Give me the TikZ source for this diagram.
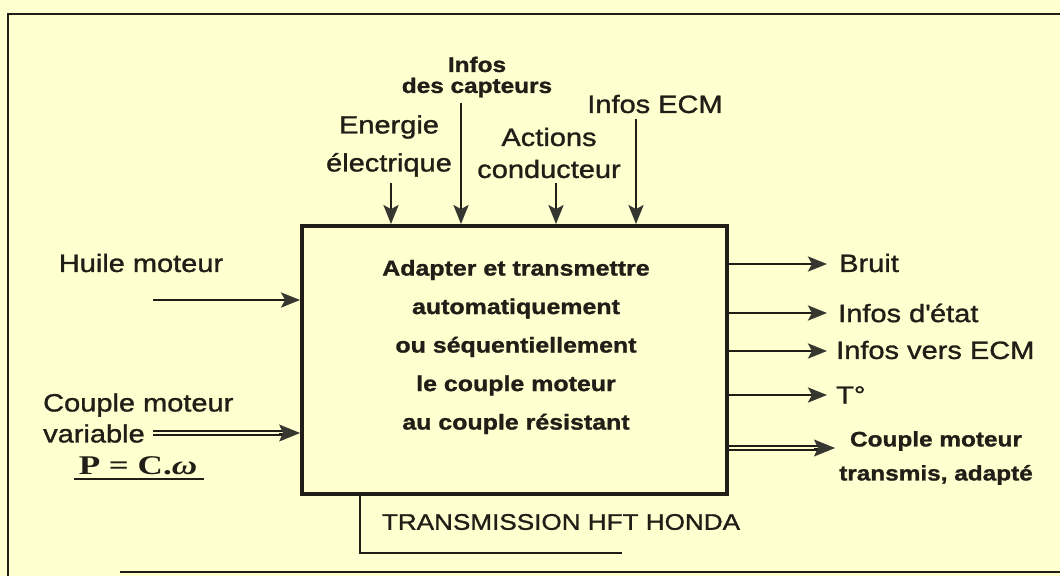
\documentclass[tikz,border=0pt]{standalone}
\usepackage{fontspec}
\setmainfont{Liberation Sans}[FakeStretch=1.16,FakeBold=1.2]
\newfontfamily\serf{Liberation Serif}[FakeStretch=1.3]
\usetikzlibrary{arrows.meta,calc}
\definecolor{bg}{RGB}{255,255,208}
\definecolor{ink}{RGB}{32,30,22}
\definecolor{tipc}{RGB}{55,55,50}
\tikzset{
  headA/.tip={Stealth[length=19pt,width=15pt,inset=4pt,color=tipc]},
  headB/.tip={Stealth[length=21pt,width=17pt,inset=4pt,color=tipc]}
}
\begin{document}
\begin{tikzpicture}[x=1pt,y=-1pt,
  frame/.style={draw=ink,line width=2.2pt},
  arr/.style={draw=ink,line width=2.8pt,-headA},
  dbl/.style={draw=ink,line width=2.2pt,double=bg,double distance=2pt},
  tipstyle/.style={draw=ink,line width=1pt,-headB},
  lab/.style={inner sep=0pt,text=ink,font=\fontsize{25}{28}\selectfont},
  capt/.style={inner sep=0pt,text=ink,align=center,font=\fontsize{21}{21}\selectfont\bfseries},
  boxtext/.style={inner sep=0pt,text=ink,align=center,font=\fontsize{21.5}{38.5}\selectfont\bfseries},
  outbold/.style={inner sep=0pt,text=ink,align=center,font=\fontsize{21}{34}\selectfont\bfseries}
]
\fill[bg] (0,0) rectangle (1060,576);
\useasboundingbox (0,0) rectangle (1060,576);
% outer frame
\draw[frame] (7,14) -- (1060,14);
\draw[frame] (8,14) -- (8,576);
\draw[frame] (120,572) -- (1060,572);
% main box
\node[draw=ink,line width=3.8pt,minimum width=425pt,minimum height=268pt,inner sep=0pt] (main) at (514.5,360) {};
\node[boxtext] (fn) at (516,347) {Adapter et transmettre\\automatiquement\\ou séquentiellement\\le couple moteur\\au couple résistant};
% top inputs
\node[lab,align=center,font=\fontsize{25}{38}\selectfont] (energie) at (389,146) {Energie\\électrique};
\node[capt] (capteurs) at (477,77) {Infos\\des capteurs};
\node[lab,align=center,font=\fontsize{25}{32}\selectfont] (actions) at (549,153) {Actions\\conducteur};
\node[lab] (ecm) at (655,104) {Infos ECM};
\coordinate (e1) at (391,183);
\coordinate (e2) at (461,103);
\coordinate (e3) at (556,183);
\coordinate (e4) at (636,119);
\draw[arr] (e1) -- (e1 |- main.north);
\draw[arr] (e2) -- (e2 |- main.north);
\draw[arr] (e3) -- (e3 |- main.north);
\draw[arr] (e4) -- (e4 |- main.north);
% left inputs
\node[lab] (huile) at (141,263) {Huile moteur};
\coordinate (h1) at (153,300);
\draw[arr] (h1) -- (h1 -| main.west);
\node[lab,align=left,anchor=west,font=\fontsize{25}{31}\selectfont] (couple) at (43,418) {Couple moteur\\variable};
\coordinate (c1) at (153,433);
\coordinate (c1end) at (c1 -| main.west);
\draw[dbl,shorten >=15pt] (c1) -- (c1end);
\draw[tipstyle] ($(c1end)+(-21,0)$) -- (c1end);
\node[inner sep=2pt,text=ink,font=\fontsize{27}{30}\selectfont] (pcw) at (138,466) {\serf\bfseries P = C.\textit{ω}};
\draw[draw=ink,line width=2.2pt] ($(pcw.south west)+(-3,2)$) -- ($(pcw.south east)+(5,2)$);
% right outputs
\coordinate (o1) at (827,264);
\coordinate (o2) at (827,313);
\coordinate (o3) at (827,351);
\coordinate (o4) at (827,395);
\coordinate (o5) at (835,448);
\draw[arr] (o1 -| main.east) -- (o1);
\draw[arr] (o2 -| main.east) -- (o2);
\draw[arr] (o3 -| main.east) -- (o3);
\draw[arr] (o4 -| main.east) -- (o4);
\draw[dbl,shorten >=15pt] (o5 -| main.east) -- (o5);
\draw[tipstyle] ($(o5)+(-21,0)$) -- (o5);
\node[lab,anchor=west] (bruit) at (839,263) {Bruit};
\node[lab,anchor=west] (etat) at (838,313) {Infos d\textquotesingle état};
\node[lab,anchor=west] (vers) at (836,350) {Infos vers ECM};
\node[lab,anchor=west] (temp) at (836,395) {T°};
\node[outbold] (cout) at (936,458) {Couple moteur\\transmis, adapté};
% bottom title
\node[lab,font=\fontsize{22.5}{26}\selectfont] (title) at (561,522) {TRANSMISSION HFT HONDA};
\coordinate (bk) at (360,553);
\coordinate (bkend) at (622,553);
\draw[frame] (bk |- main.south) -- (bk) -- (bkend);
\end{tikzpicture}
\end{document}
